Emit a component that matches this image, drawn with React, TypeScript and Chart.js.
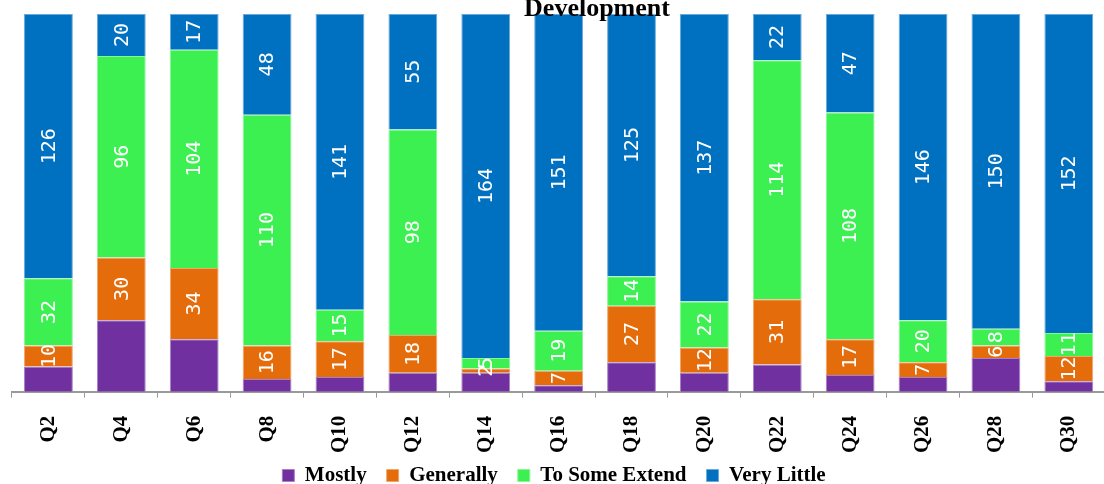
import React, { useEffect, useRef } from "react";
import { Chart, registerables } from "chart.js";

Chart.register(...registerables);

const categories = ["Q2", "Q4", "Q6", "Q8", "Q10", "Q12", "Q14", "Q16", "Q18", "Q20", "Q22", "Q24", "Q26", "Q28", "Q30"];
const mostly = [12, 34, 25, 6, 7, 9, 9, 3, 14, 9, 13, 8, 7, 16, 5];
const generally = [10, 30, 34, 16, 17, 18, 2, 7, 27, 12, 31, 17, 7, 6, 12];
const toSomeExtend = [32, 96, 104, 110, 15, 98, 5, 19, 14, 22, 114, 108, 20, 8, 11];
const veryLittle = [126, 20, 17, 48, 141, 55, 164, 151, 125, 137, 22, 47, 146, 150, 152];
const seriesNames = ["Mostly", "Generally", "To Some Extend", "Very Little"];
const titleText = "Development";

const colors = ["#7030A0", "#E46C0A", "#3CF052", "#0070C0"];
const borders = ["#A77FC6", "#F0A66A", "#8AF595", "#6AA9DA"];

const LEGEND_SHRINK = 26;
const CANVAS_W = 1112;

const valueLabels = {
  id: "valueLabels",
  afterDatasetsDraw(chart: any) {
    const ctx = chart.ctx;
    ctx.save();
    ctx.fillStyle = "#ffffff";
    ctx.font = "20px 'DejaVu Sans Mono'";
    ctx.textAlign = "center";
    ctx.textBaseline = "middle";
    chart.data.datasets.forEach((ds: any, di: number) => {
      if (di === 0) return;
      const meta = chart.getDatasetMeta(di);
      meta.data.forEach((el: any, i: number) => {
        const p = el.getCenterPoint();
        ctx.save();
        ctx.translate(p.x, p.y);
        ctx.rotate(-Math.PI / 2);
        ctx.fillText(String(ds.data[i]), 0, 1);
        ctx.restore();
      });
    });
    ctx.restore();
  },
};

const topTitle = {
  id: "topTitle",
  afterDraw(chart: any) {
    const ctx = chart.ctx;
    ctx.save();
    ctx.fillStyle = "#000";
    ctx.font = "bold 26px 'Liberation Serif'";
    ctx.textAlign = "center";
    ctx.textBaseline = "alphabetic";
    ctx.fillText(titleText, 597, 16);
    ctx.restore();
  },
};

const legendTighten = {
  id: "legendTighten",
  beforeLayout(chart: any) {
    const lg = chart.legend;
    if (lg && !lg._tightened) {
      const orig = lg.fit;
      lg.fit = function (this: any) {
        orig.call(this);
        this.height -= LEGEND_SHRINK;
      };
      lg._tightened = true;
    }
  },
  afterLayout(chart: any) {
    const lg = chart.legend;
    if (lg) {
      lg.top -= LEGEND_SHRINK;
      lg.left -= 8;
      lg.right -= 8;
    }
  },
};

export default function App() {
  const ref = useRef<HTMLCanvasElement>(null);
  useEffect(() => {
    if (!ref.current) return;
    const series = [mostly, generally, toSomeExtend, veryLittle];
    const chart = new Chart(ref.current, {
      type: "bar",
      data: {
        labels: categories,
        datasets: series.map((d, i) => ({
          label: seriesNames[i],
          data: d,
          backgroundColor: colors[i],
          borderColor: borders[i],
          borderWidth: 1,
          barPercentage: 0.67,
          categoryPercentage: 1,
        })),
      },
      options: {
        responsive: false,
        animation: false,
        layout: { padding: { top: 14, left: 12, right: 0, bottom: -12 } },
        plugins: {
          title: { display: false },
          tooltip: { enabled: false },
          legend: {
            position: "bottom",
            labels: {
              boxWidth: 12,
              boxHeight: 12,
              padding: 20,
              color: "#000",
              font: { family: "'Liberation Serif'", size: 21, weight: "bold" },
            },
          },
        },
        scales: {
          x: {
            stacked: true,
            grid: { drawOnChartArea: false, drawTicks: true, tickLength: 6, color: "#999", offset: true },
            border: { display: true, color: "#999", width: 2 },
            ticks: {
              color: "#000",
              minRotation: 90,
              maxRotation: 90,
              padding: 18,
              font: { family: "'Liberation Serif'", size: 21, weight: "bold" },
            },
          },
          y: {
            stacked: true,
            display: false,
            min: 0,
            max: 180,
          },
        },
      },
      plugins: [legendTighten, valueLabels, topTitle],
    });
    return () => chart.destroy();
  }, []);
  return (
    <div style={{ position: "fixed", left: 0, top: 0, width: 1104, height: 484, overflow: "hidden" }}>
      <canvas ref={ref} width={CANVAS_W} height={484} style={{ width: CANVAS_W, height: 484, display: "block" }} />
    </div>
  );
}
